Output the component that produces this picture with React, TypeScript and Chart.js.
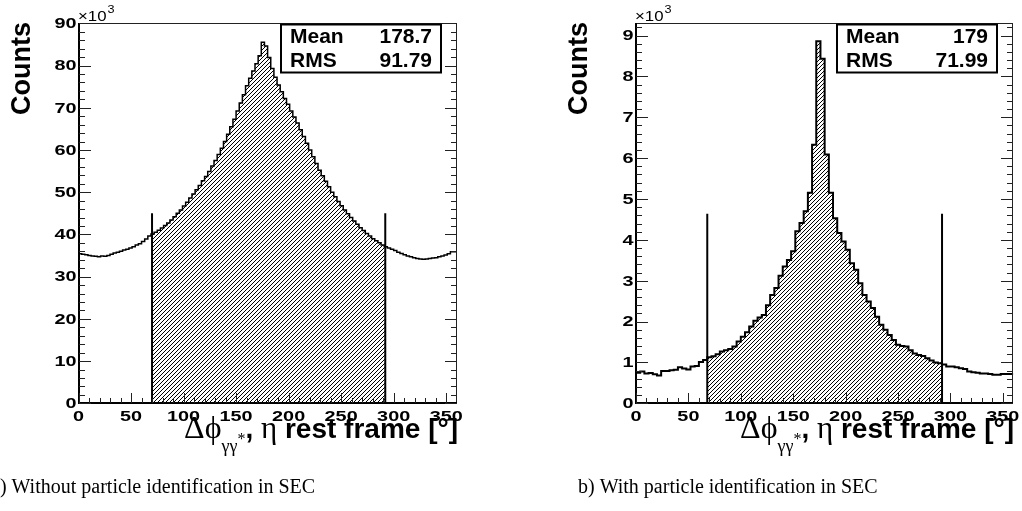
import React, { useEffect, useRef } from "react";
import { Chart, registerables } from "chart.js";

Chart.register(...registerables);

const SANS = '"Liberation Sans", Arial, Helvetica, sans-serif';
const SERIF = '"Liberation Serif", "Times New Roman", serif';

// ---------------- data ----------------
const xTicks = [0, 50, 100, 150, 200, 250, 300, 350];
const statLabels = ["Mean", "RMS"];

// panel a) counts in units of 10^3, 3 degree bins
const leftBinWidthDeg = 3;
const leftCountsK = [
  35.6, 35.4, 35.3, 35.2, 35.0, 34.9, 34.8, 34.7, 34.9, 34.8,
  35.0, 35.3, 35.6, 35.8, 36.0, 36.3, 36.5, 36.8, 37.1, 37.5,
  37.8, 38.3, 38.9, 39.6, 40.1, 40.5, 41.0, 41.5, 42.1, 42.7,
  43.4, 44.2, 45.0, 45.8, 46.7, 47.6, 48.6, 49.6, 50.6, 51.6,
  52.7, 53.7, 54.9, 56.2, 57.5, 58.9, 60.4, 62.0, 63.7, 65.5,
  67.3, 69.2, 71.1, 73.1, 75.2, 77.0, 78.7, 80.4, 82.3, 85.5,
  84.6, 81.9, 79.3, 77.2, 75.4, 73.8, 72.2, 70.8, 69.2, 67.8,
  66.4, 64.8, 63.2, 61.6, 60.0, 58.4, 56.8, 55.2, 53.9, 52.6,
  51.3, 50.0, 48.9, 47.8, 46.8, 45.8, 44.9, 44.0, 43.2, 42.4,
  41.6, 40.9, 40.2, 39.6, 39.0, 38.5, 38.0, 37.5, 37.1, 36.8,
  36.5, 36.2, 35.8, 35.5, 35.2, 34.9, 34.7, 34.5, 34.3, 34.2,
  34.1, 34.2, 34.3, 34.4, 34.5, 34.7, 34.9, 35.1, 35.4, 35.9,
];
const leftCutsDeg = [70, 292];
const leftCutTopK = 45;
const leftYMaxK = 90;
const leftYTicks = [0, 10, 20, 30, 40, 50, 60, 70, 80, 90];
const leftStatValues = ["178.7", "91.79"];
const leftCaption = "a) Without particle identification in SEC";

// panel b) counts in units of 10^3, 4 degree bins
const rightBinWidthDeg = 4;
const rightCountsK = [
  0.73, 0.75, 0.78, 0.73, 0.74, 0.71, 0.68, 0.79, 0.79, 0.81,
  0.82, 0.88, 0.85, 0.83, 0.9, 0.91, 1.01, 1.06, 1.13, 1.15,
  1.2, 1.27, 1.3, 1.33, 1.39, 1.51, 1.63, 1.74, 1.88, 2.02,
  2.1, 2.16, 2.4, 2.65, 2.82, 3.12, 3.35, 3.51, 3.72, 4.21,
  4.41, 4.7, 5.15, 6.33, 8.86, 8.43, 6.09, 5.15, 4.53, 4.17,
  3.96, 3.76, 3.43, 3.27, 2.94, 2.65, 2.49, 2.33, 2.12, 1.92,
  1.8, 1.67, 1.55, 1.43, 1.4, 1.39, 1.3, 1.22, 1.18, 1.16,
  1.1, 1.05, 1.0, 0.98, 0.95, 0.9, 0.9, 0.88, 0.86, 0.84,
  0.78, 0.76, 0.75, 0.73, 0.73, 0.72, 0.7, 0.7, 0.72, 0.72,
];
const rightCutsDeg = [68, 292];
const rightCutTopK = 4.64;
const rightYMaxK = 9.3;
const rightYTicks = [0, 1, 2, 3, 4, 5, 6, 7, 8, 9];
const rightStatValues = ["179", "71.99"];
const rightCaption = "b) With particle identification in SEC";

// ---------------- helpers ----------------
function makeHatch(): CanvasPattern | string {
  const c = document.createElement("canvas");
  c.width = 4;
  c.height = 4;
  const g = c.getContext("2d");
  if (!g) return "#888";
  g.fillStyle = "#000";
  for (let i = 0; i < 4; i++) g.fillRect(i, 3 - i, 1, 1);
  return g.createPattern(c, "repeat") || "#888";
}

function stretchText(
  ctx: CanvasRenderingContext2D,
  text: string,
  x: number,
  y: number,
  sx: number,
  align: CanvasTextAlign
) {
  ctx.save();
  ctx.translate(x, y);
  ctx.scale(sx, 1);
  ctx.textAlign = align;
  ctx.fillText(text, 0, 0);
  ctx.restore();
}

function drawXTitle(ctx: CanvasRenderingContext2D, right: number, baseline: number) {
  const parts = [
    { t: "\u0394\u03d5", f: `32px ${SERIF}`, dy: 0 },
    { t: "\u03b3\u03b3", f: `18px ${SERIF}`, dy: 14 },
    { t: "*", f: `16px ${SERIF}`, dy: 6 },
    { t: ", ", f: `bold 28px ${SANS}`, dy: 0 },
    { t: "\u03b7", f: `31px ${SERIF}`, dy: 0 },
    { t: " rest frame [\u00b0]", f: `bold 28px ${SANS}`, dy: 0 },
  ];
  let total = 0;
  const widths = parts.map((p) => {
    ctx.font = p.f;
    const w = ctx.measureText(p.t).width;
    total += w;
    return w;
  });
  let x = right - total;
  ctx.textAlign = "left";
  ctx.textBaseline = "alphabetic";
  parts.forEach((p, i) => {
    ctx.font = p.f;
    ctx.fillText(p.t, x, baseline + p.dy);
    x += widths[i];
  });
}

type PanelProps = {
  counts: number[];
  binWidth: number;
  cuts: number[];
  cutTop: number;
  yMax: number;
  yTicks: number[];
  yMinor: number;
  stats: string[];
  caption: string;
  captionX: number;
  offsetX: number;
  padLeft: number;
  padRight: number;
  histWidth: number;
};

function Panel(p: PanelProps) {
  const ref = useRef<HTMLCanvasElement | null>(null);

  useEffect(() => {
    const canvas = ref.current;
    if (!canvas) return;
    const n = p.counts.length;
    const outline = p.counts.map((v, i) => ({ x: i * p.binWidth, y: v }));
    outline.push({ x: n * p.binWidth, y: p.counts[n - 1] });

    const hatch: { x: number; y: number }[] = [];
    let lastV = 0;
    p.counts.forEach((v, i) => {
      const lo = i * p.binWidth;
      const hi = lo + p.binWidth;
      if (hi <= p.cuts[0] || lo >= p.cuts[1]) return;
      hatch.push({ x: Math.max(lo, p.cuts[0]), y: v });
      lastV = v;
    });
    hatch.push({ x: p.cuts[1], y: lastV });

    const overlay = {
      id: "rootStyle",
      afterDraw(chart: any) {
        const ctx: CanvasRenderingContext2D = chart.ctx;
        const a = chart.chartArea;
        const xs = chart.scales.x;
        const ys = chart.scales.y;
        const L = Math.round(a.left);
        const R = Math.round(a.right);
        const T = Math.round(a.top);
        const B = Math.round(a.bottom);
        ctx.save();

        // frame
        ctx.strokeStyle = "#222";
        ctx.lineWidth = 1;
        ctx.beginPath();
        ctx.moveTo(L, T + 0.5);
        ctx.lineTo(R, T + 0.5);
        ctx.moveTo(R - 0.5, T);
        ctx.lineTo(R - 0.5, B);
        ctx.stroke();
        ctx.strokeStyle = "#000";
        ctx.lineWidth = 2;
        ctx.beginPath();
        ctx.moveTo(L, T);
        ctx.lineTo(L, B);
        ctx.lineTo(R, B);
        ctx.stroke();

        // y ticks (left and mirrored right)
        ctx.lineWidth = 1;
        ctx.strokeStyle = "#222";
        ctx.beginPath();
        for (let k = 0; k * p.yMinor <= p.yMax + 1e-6; k++) {
          const y = Math.round(ys.getPixelForValue(k * p.yMinor)) + 0.5;
          const len = k % 5 === 0 ? 12 : 6;
          ctx.moveTo(L, y);
          ctx.lineTo(L + len, y);
          ctx.moveTo(R, y);
          ctx.lineTo(R - len, y);
        }
        // x ticks
        for (let k = 0; k < 36; k++) {
          const x = Math.round(xs.getPixelForValue(k * 10)) + 0.5;
          const len = k % 5 === 0 ? 10 : 5;
          ctx.moveTo(x, B);
          ctx.lineTo(x, B - len);
        }
        ctx.stroke();

        // tick labels
        ctx.fillStyle = "#000";
        ctx.font = `bold 15.5px ${SANS}`;
        ctx.textBaseline = "middle";
        p.yTicks.forEach((v) => {
          stretchText(ctx, String(v), L - 2.5, ys.getPixelForValue(v) + 0.5, 1.28, "right");
        });
        xTicks.forEach((v) => {
          stretchText(ctx, String(v), xs.getPixelForValue(v), 416.5, 1.28, "center");
        });

        // x10^3
        ctx.textBaseline = "alphabetic";
        ctx.font = `14px ${SANS}`;
        stretchText(ctx, "\u00d710", L - 1, 20.5, 1.2, "left");
        const w10 = ctx.measureText("\u00d710").width * 1.2;
        ctx.font = `11px ${SANS}`;
        stretchText(ctx, "3", L + w10, 12.5, 1.15, "left");

        // y title
        ctx.save();
        ctx.translate(L - 56, T - 1);
        ctx.rotate(-Math.PI / 2);
        ctx.font = `bold 27px ${SANS}`;
        ctx.textAlign = "right";
        ctx.textBaseline = "middle";
        ctx.fillText("Counts", 0, 0);
        ctx.restore();

        // x title
        drawXTitle(ctx, R + 1, 438);

        // stats box
        const bw = 160;
        const bh = 48;
        const bx = R - 16 - bw;
        const by = T + 1.5;
        ctx.fillStyle = "#fff";
        ctx.fillRect(bx, by, bw, bh);
        ctx.lineWidth = 2;
        ctx.strokeStyle = "#000";
        ctx.strokeRect(bx, by, bw, bh);
        ctx.fillStyle = "#000";
        ctx.font = `bold 21px ${SANS}`;
        ctx.textBaseline = "middle";
        statLabels.forEach((s, i) => {
          const y = by + 13 + i * 24;
          ctx.textAlign = "left";
          ctx.fillText(s, bx + 9, y);
          ctx.textAlign = "right";
          ctx.fillText(p.stats[i], bx + bw - 9, y);
        });

        // caption
        ctx.font = `20px ${SERIF}`;
        ctx.textAlign = "left";
        ctx.textBaseline = "middle";
        ctx.fillText(p.caption, p.captionX, 488);

        ctx.restore();
      },
    };

    const chart = new Chart(canvas, {
      type: "line",
      data: {
        datasets: [
          {
            data: hatch,
            stepped: "after",
            fill: "origin",
            backgroundColor: makeHatch() as any,
            borderColor: "rgba(0,0,0,0)",
            borderWidth: 0,
            pointRadius: 0,
            order: 3,
          },
          {
            data: outline,
            stepped: "after",
            fill: false,
            borderColor: "#000",
            borderWidth: p.histWidth,
            pointRadius: 0,
            order: 1,
          },
          ...p.cuts.map((c) => ({
            data: [
              { x: c, y: 0 },
              { x: c, y: p.cutTop },
            ],
            fill: false,
            borderColor: "#000",
            borderWidth: 2,
            pointRadius: 0,
            order: 0,
          })),
        ] as any,
      },
      options: {
        animation: false,
        responsive: false,
        devicePixelRatio: 1,
        events: [],
        layout: {
          padding: { left: p.padLeft, right: p.padRight, top: 23.3, bottom: 107.7 },
        },
        scales: {
          x: { type: "linear", min: 0, max: 360, display: false },
          y: { type: "linear", min: 0, max: p.yMax, display: false },
        },
        plugins: {
          legend: { display: false },
          tooltip: { enabled: false },
        },
      },
      plugins: [overlay],
    });
    return () => chart.destroy();
  }, []);

  return (
    <canvas
      ref={ref}
      width={511}
      height={511}
      style={{ position: "absolute", left: p.offsetX, top: 0, width: 511, height: 511, display: "block" }}
    />
  );
}

export default function App() {
  return (
    <div style={{ position: "absolute", left: 0, top: 0, width: 1022, height: 511, background: "#fff", overflow: "hidden" }}>
      <Panel
        counts={leftCountsK}
        binWidth={leftBinWidthDeg}
        cuts={leftCutsDeg}
        cutTop={leftCutTopK}
        yMax={leftYMaxK}
        yTicks={leftYTicks}
        yMinor={2}
        stats={leftStatValues}
        caption={leftCaption}
        captionX={-9}
        offsetX={0}
        padLeft={78.5}
        padRight={54.3}
        histWidth={1.5}
      />
      <Panel
        counts={rightCountsK}
        binWidth={rightBinWidthDeg}
        cuts={rightCutsDeg}
        cutTop={rightCutTopK}
        yMax={rightYMaxK}
        yTicks={rightYTicks}
        yMinor={0.2}
        stats={rightStatValues}
        caption={rightCaption}
        captionX={67}
        offsetX={511}
        padLeft={125}
        padRight={8.7}
        histWidth={2}
      />
    </div>
  );
}
